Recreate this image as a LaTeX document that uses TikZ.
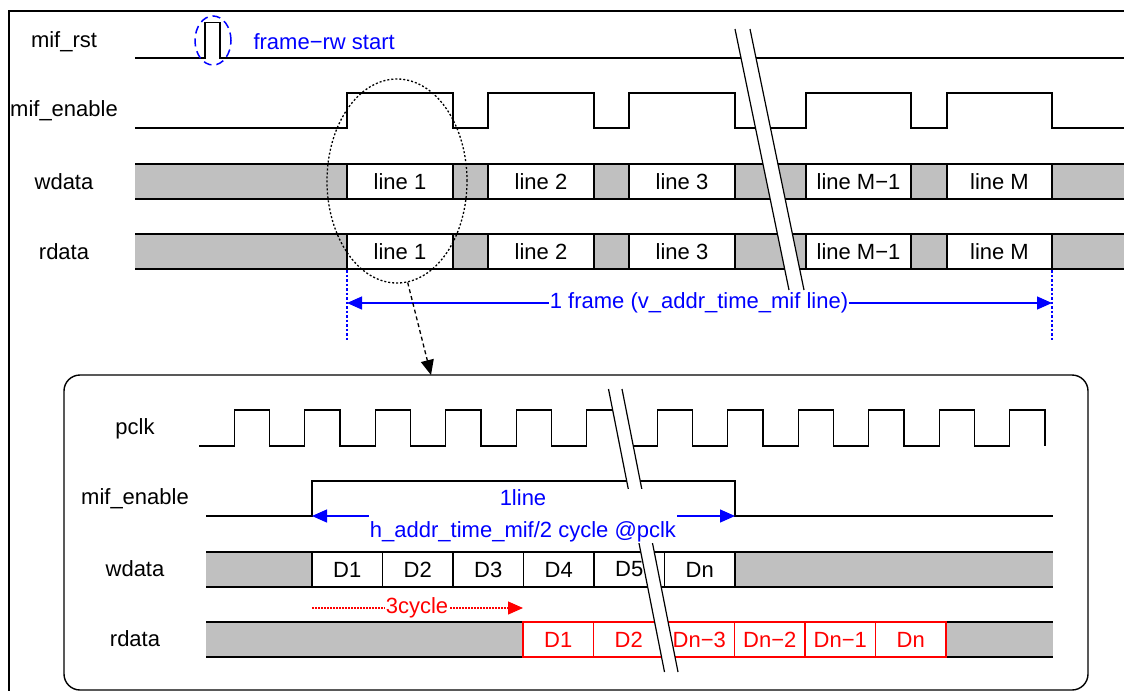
\documentclass[tikz,border=0pt]{standalone}
\usepackage{fontspec}
\setmainfont{Liberation Sans}
\usetikzlibrary{shapes.geometric,arrows.meta,positioning}
\definecolor{datagray}{RGB}{192,192,192}
\tikzstyle{sig} = [line width=1.3pt]
\tikzstyle{siglabel} = [font=\fontsize{22}{26}\selectfont]
\tikzstyle{databox} = [draw, fill=white, line width=1.3pt, inner sep=0pt, minimum height=35pt, font=\fontsize{22}{26}\selectfont]
\tikzstyle{redbox} = [databox, draw=red, text=red]
\tikzstyle{breakmark} = [line width=1.2pt]
\tikzstyle{tri} = [-{Triangle[length=15pt,width=13pt]}, line width=1.3pt]

\begin{document}
\begin{tikzpicture}[x=1pt, y=-1pt]
    \useasboundingbox (0,0) rectangle (1124,691);
    % Frame
    \draw[line width=1.6pt] (1124,11) -- (9,11) -- (9,691);

    % Signal names (frame level)
    \foreach \sname/\txt/\y in {rst/mif\_rst/42, en/mif\_enable/111, wd/wdata/182, rd/rdata/252} {
        \node[siglabel] (top\sname) at (64,\y) {\txt};
    }

    % mif_rst
    \draw[sig] (135,58) -- (205,58) -- (205,22.5) -- (220,22.5) -- (220,58) -- (1124,58);

    % mif_enable
    \draw[sig] (135,128) \foreach \a/\b in {347/453,488/594,629/735,806/911,947/1052} {
        -- (\a,128) -- (\a,93) -- (\b,93) -- (\b,128) } -- (1124,128);

    % wdata / rdata
    \foreach \yt/\yb in {164/199, 234/269} {
        \fill[datagray] (135,\yt) rectangle (1124,\yb);
        \draw[sig] (135,\yt) -- (1124,\yt) (135,\yb) -- (1124,\yb);
    }
    \foreach \a/\b/\txt [count=\i] in {347/453/line 1, 488/594/line 2, 629/735/line 3, 806/911/line M−1, 947/1052/line M} {
        \pgfmathsetmacro\boxw{\b-\a}
        \pgfmathsetmacro\boxx{(\a+\b)/2}
        \node[databox, minimum width=\boxw pt] (wline\i) at (\boxx,181.5) {\txt};
        \node[databox, minimum width=\boxw pt] (rline\i) at (\boxx,251.5) {\txt};
    }

    % Break (frame level)
    \fill[white] (735,29) -- (750,29) -- (804,290) -- (789,290) -- cycle;
    \draw[breakmark] (735,29) -- (789,290) (750,29) -- (804,290);

    % frame-rw start
    \node[ellipse, draw=blue, line width=1.5pt, dash pattern=on 8pt off 5pt, minimum width=36pt, minimum height=49pt, inner sep=0pt] (rstmark) at (213,40.5) {};
    \node[siglabel, text=blue, anchor=west] (rstnote) at (250,42) {frame−rw start};

    % 1 frame
    \foreach \x/\n in {347/l, 1052/r} {
        \coordinate (fmark\n) at (\x,303);
        \draw[blue, dash pattern=on 2.5pt off 2pt, line width=1.2pt] (\x,270) -- (\x,340);
    }
    \draw[blue, line width=1.3pt, {Triangle[length=15pt,width=13pt]}-{Triangle[length=15pt,width=13pt]}] (fmarkl) -- (fmarkr);
    \node[siglabel, text=blue, fill=white, inner sep=1pt] (framenote) at (699,303) {1 frame (v\_addr\_time\_mif line)};

    % Zoom
    \node[ellipse, draw, dash pattern=on 2pt off 2pt, line width=1.3pt, minimum width=140pt, minimum height=204pt, inner sep=0pt] (zoomell) at (397,181) {};
    \coordinate (detailtop) at (431,375);
    \draw[tri, dash pattern=on 4pt off 3pt] (zoomell.-84) -- (detailtop);

    % Detail box
    \draw[line width=1.4pt, rounded corners=16pt] (64,375) rectangle (1088,690);

    % Signal names (line level)
    \foreach \sname/\txt/\y in {clk/pclk/429, en/mif\_enable/499, wd/wdata/569, rd/rdata/639} {
        \node[siglabel] (bot\sname) at (135,\y) {\txt};
    }

    % pclk
    \draw[sig] (199,446) \foreach \i in {0,...,11} {
        -- ({234.3+70.5*\i},446) -- ++(0,-36) -- ++(35.2,0) -- ++(0,36) };

    % mif_enable
    \draw[sig] (206,516) -- (312,516) -- (312,481) -- (735,481) -- (735,516) -- (1053,516);

    % wdata / rdata
    \foreach \yt/\yb in {552/587, 622/657} {
        \fill[datagray] (206,\yt) rectangle (1053,\yb);
        \draw[sig] (206,\yt) -- (1053,\yt) (206,\yb) -- (1053,\yb);
    }
    \foreach \txt [count=\i] in {D1,D2,D3,D4,D5,Dn} {
        \node[databox, minimum width=70.5pt] (wd\i) at ({276.75+70.5*\i},569.5) {\txt};
    }
    \foreach \txt [count=\i] in {D1,D2,Dn−3,Dn−2,Dn−1,Dn} {
        \node[redbox, minimum width=70.5pt] (rd\i) at ({487.75+70.5*\i},639.5) {\txt};
    }

    % Break (line level)
    \fill[white] (608.5,389) -- (622,389) -- (678,672) -- (664.5,672) -- cycle;
    \draw[breakmark] (608.5,389) -- (664.5,672) (622,389) -- (678,672);

    % 1line
    \node[text=blue, fill=white, align=center, inner sep=1pt, font=\fontsize{22}{32}\selectfont] (linenote) at (523,516) {1line\\h\_addr\_time\_mif/2 cycle @pclk};
    \coordinate (enrise) at (312,516);
    \coordinate (enfall) at (735,516);
    \draw[tri, blue] (linenote.west) -- (enrise);
    \draw[tri, blue] (linenote.east) -- (enfall);

    % 3cycle
    \coordinate (lagstart) at (312,608);
    \coordinate (lagend) at (523,608);
    \draw[tri, red, dash pattern=on 1.5pt off 1.5pt] (lagstart) -- (lagend);
    \node[siglabel, text=red, fill=white, inner sep=1pt] (lagnote) at (417,608) {3cycle};
\end{tikzpicture}
\end{document}
